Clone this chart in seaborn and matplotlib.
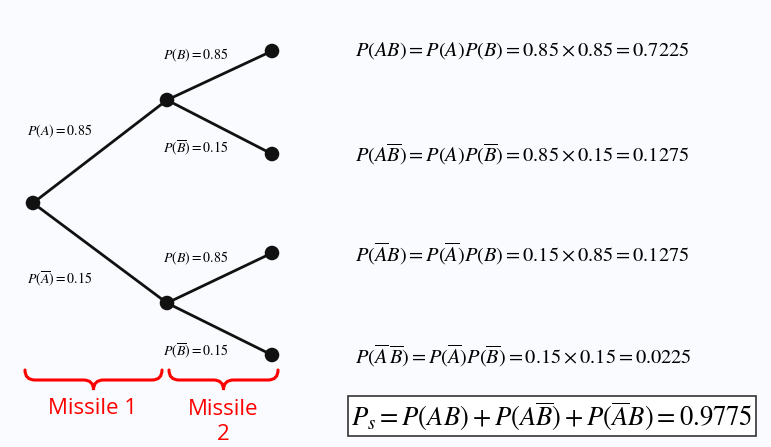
import numpy as np
import pandas as pd
import seaborn as sns
from matplotlib import pyplot as plt
from matplotlib.path import Path
from matplotlib.patches import PathPatch

sns.set_theme(style="white")
plt.rcParams['mathtext.fontset'] = 'stix'
plt.rcParams['font.family'] = ['Open Sans', 'DejaVu Sans']

# tree data
p_A = 0.85
p_B = 0.85
stage_x = [33, 167, 272]                 # x position of each stage
root_y = [203]
mid_y = [100, 303]
leaf_y = [51, 154, 253, 355]

edge_labels = [r'$P\left(A\right)=0.85$', r'$P\left(\overline{A}\right)=0.15$']
branch_labels = [r'$P\left(B\right)=0.85$', r'$P\left(\overline{B}\right)=0.15$']
results = [
    r'$P\left(AB\right)=P\left(A\right)P\left(B\right)=0.85\times0.85=0.7225$',
    r'$P\left(A\overline{B}\right)=P\left(A\right)P\left(\overline{B}\right)=0.85\times0.15=0.1275$',
    r'$P\left(\overline{A}B\right)=P\left(\overline{A}\right)P\left(B\right)=0.15\times0.85=0.1275$',
    r'$P\left(\overline{A}\,\overline{B}\right)=P\left(\overline{A}\right)P\left(\overline{B}\right)=0.15\times0.15=0.0225$',
]
total = r'$P_s=P\left(AB\right)+P\left(A\overline{B}\right)+P\left(\overline{A}B\right)=0.9775$'
stage_names = ['Missile 1', 'Missile\n2']

nodes = pd.DataFrame({
    'x': [stage_x[0]] + [stage_x[1]] * 2 + [stage_x[2]] * 4,
    'y': root_y + mid_y + leaf_y,
})

fig = plt.figure(figsize=(7.71, 4.47), dpi=100)
fig.patch.set_facecolor('#f9fbfe')
ax = fig.add_axes([0, 0, 1, 1])
ax.set_facecolor('#f9fbfe')
ax.set_xlim(0, 771)
ax.set_ylim(447, 0)
ax.axis('off')

# edges
for my in mid_y:
    ax.plot([stage_x[0], stage_x[1]], [root_y[0], my], color='#111111', lw=2, zorder=1)
for i, my in enumerate(mid_y):
    for ly in leaf_y[2 * i:2 * i + 2]:
        ax.plot([stage_x[1], stage_x[2]], [my, ly], color='#111111', lw=2, zorder=1)

sns.scatterplot(data=nodes, x='x', y='y', s=110, color='#111111', edgecolor='none', ax=ax, zorder=2, legend=False)
ax.set_xlabel('')
ax.set_ylabel('')

# labels on edges
ax.text(27, 131, edge_labels[0], fontsize=10, va='center', ha='left', color='black')
ax.text(27, 279, edge_labels[1], fontsize=10, va='center', ha='left', color='black')
for my in mid_y:
    ax.text(163, my - 45, branch_labels[0], fontsize=10, va='center', ha='left', color='black')
    ax.text(163, my + 48, branch_labels[1], fontsize=10, va='center', ha='left', color='black')

# outcomes
for ly, r in zip(leaf_y, results):
    ax.text(355, ly, r, fontsize=14.7, va='center', ha='left', color='black')

ax.text(351, 416, total, fontsize=19.2, va='center', ha='left', color='black',
        bbox=dict(boxstyle='square,pad=0.12', facecolor='white', edgecolor='#333333', lw=1.2))


def brace(x0, x1, ytop=370, yline=380, ytip=390, r=10):
    xm = (x0 + x1) / 2
    verts = [(x0, ytop), (x0, yline), (x0 + r, yline),
             (xm - r, yline), (xm, yline), (xm, ytip),
             (xm, yline), (xm + r, yline),
             (x1 - r, yline), (x1, yline), (x1, ytop)]
    codes = [Path.MOVETO, Path.CURVE3, Path.CURVE3,
             Path.LINETO, Path.CURVE3, Path.CURVE3,
             Path.CURVE3, Path.CURVE3,
             Path.LINETO, Path.CURVE3, Path.CURVE3]
    ax.add_patch(PathPatch(Path(verts, codes), fill=False, edgecolor='#ff0000', lw=2.2, capstyle='round'))


brace(25, 162)
brace(169, 278)
ax.text(92, 408, stage_names[0], fontsize=16, color='#ff0000', ha='center', va='center')
ax.text(223, 422, stage_names[1], fontsize=16, color='#ff0000', ha='center', va='center', linespacing=1.25)

plt.savefig('out.png', dpi=100, facecolor=fig.get_facecolor())
